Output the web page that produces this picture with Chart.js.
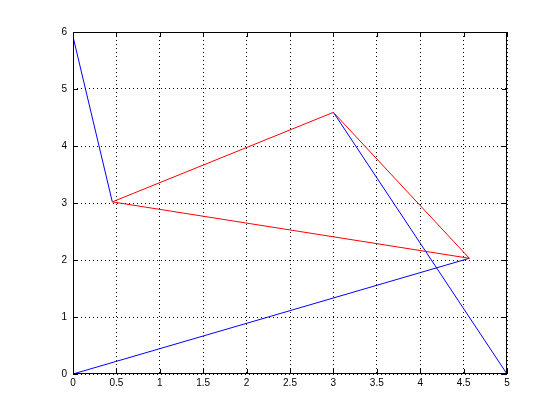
<!DOCTYPE html>
<html>
<head>
<meta charset="utf-8">
<script src="https://cdn.jsdelivr.net/npm/chart.js@4"></script>
<style>
    html, body { margin: 0; padding: 0; background: #fff; }
    #wrap { width: 560px; height: 420px; }
</style>
</head>
<body>
<div id="wrap"><canvas id="plot" width="560" height="420"></canvas></div>
<script>
// values (null = pen up)
const blueX = [0, 0.453, null, 3.0, 5, null, 0, 4.566];
const blueY = [5.92, 3.02, null, 4.59, 0, null, 0, 2.03];
const redX = [0.453, 3.0, 4.566, 0.453];
const redY = [3.02, 4.59, 2.03, 3.02];

const xTicks = [0, 0.5, 1, 1.5, 2, 2.5, 3, 3.5, 4, 4.5, 5];
const yTicks = [0, 1, 2, 3, 4, 5, 6];

function toPoints(xs, ys) {
    return xs.map((x, i) => ({ x: x, y: ys[i] }));
}

// box round the axes with short inward ticks, like the original
const boxPlugin = {
    id: 'box',
    afterDraw(chart) {
        const ctx = chart.ctx;
        const a = chart.chartArea;
        const sx = chart.scales.x;
        const sy = chart.scales.y;
        const len = 5;
        ctx.save();
        ctx.strokeStyle = '#000';
        ctx.lineWidth = 1;
        ctx.setLineDash([]);
        ctx.strokeRect(Math.round(a.left) + 0.5, Math.round(a.top) + 0.5,
            Math.round(a.right - a.left) - 1, Math.round(a.bottom - a.top) - 1);
        ctx.beginPath();
        xTicks.forEach(v => {
            const px = Math.round(sx.getPixelForValue(v)) + 0.5;
            ctx.moveTo(px, a.bottom);
            ctx.lineTo(px, a.bottom - len);
            ctx.moveTo(px, a.top);
            ctx.lineTo(px, a.top + len);
        });
        yTicks.forEach(v => {
            const py = Math.round(sy.getPixelForValue(v)) + 0.5;
            ctx.moveTo(a.left, py);
            ctx.lineTo(a.left + len, py);
            ctx.moveTo(a.right, py);
            ctx.lineTo(a.right - len, py);
        });
        ctx.stroke();
        ctx.restore();
    }
};

const tickFont = { family: '"Liberation Sans", Arial, Helvetica, sans-serif', size: 10 };

new Chart(document.getElementById('plot').getContext('2d'), {
    type: 'scatter',
    data: {
        datasets: [
            {
                label: 'red',
                data: toPoints(redX, redY),
                showLine: true,
                borderColor: '#ff0000',
                borderWidth: 1,
                pointRadius: 0,
                tension: 0
            },
            {
                label: 'blue',
                data: toPoints(blueX, blueY),
                showLine: true,
                spanGaps: false,
                borderColor: '#0000ff',
                borderWidth: 1,
                pointRadius: 0,
                tension: 0
            }
        ]
    },
    options: {
        responsive: false,
        animation: false,
        devicePixelRatio: 1,
        layout: {
            padding: { left: 43, top: 32, right: 53, bottom: 26 }
        },
        plugins: {
            legend: { display: false },
            tooltip: { enabled: false }
        },
        scales: {
            x: {
                type: 'linear',
                min: 0,
                max: 5,
                afterBuildTicks: scale => { scale.ticks = xTicks.map(v => ({ value: v })); },
                afterFit: scale => { scale.height = 20; },
                ticks: {
                    color: '#000',
                    font: tickFont,
                    padding: 3,
                    maxRotation: 0,
                    autoSkip: false,
                    callback: v => String(v)
                },
                grid: {
                    color: '#000',
                    lineWidth: 1,
                    drawTicks: false
                },
                border: { display: false, dash: [1, 3] }
            },
            y: {
                type: 'linear',
                min: 0,
                max: 6,
                afterBuildTicks: scale => { scale.ticks = yTicks.map(v => ({ value: v })); },
                afterFit: scale => { scale.width = 30; },
                ticks: {
                    color: '#000',
                    font: tickFont,
                    padding: 6,
                    autoSkip: false,
                    callback: v => String(v)
                },
                grid: {
                    color: '#000',
                    lineWidth: 1,
                    drawTicks: false
                },
                border: { display: false, dash: [1, 3] }
            }
        }
    },
    plugins: [boxPlugin]
});
</script>
</body>
</html>
